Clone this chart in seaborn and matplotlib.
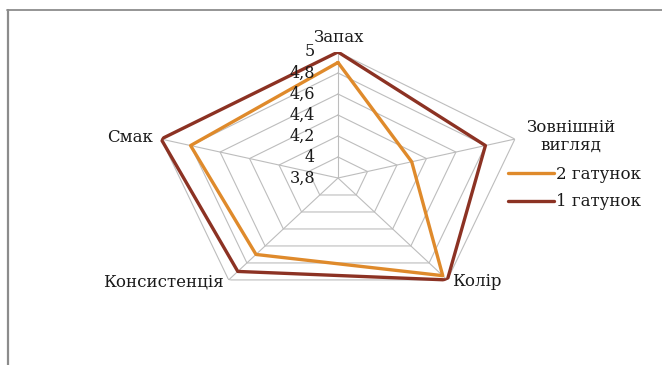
import numpy as np
import pandas as pd
import matplotlib
matplotlib.use("Agg")
import matplotlib.pyplot as plt
from matplotlib.lines import Line2D
import seaborn as sns

# Sensory evaluation scores for two grades of product
categories = ["Запах", "Зовнішній\nвигляд", "Колір", "Консистенція", "Смак"]
grade_1 = [5.0, 4.8, 5.0, 4.9, 5.0]
grade_2 = [4.9, 4.3, 4.95, 4.7, 4.8]
series_names = ["2 гатунок", "1 гатунок"]
ring_levels = [3.8, 4.0, 4.2, 4.4, 4.6, 4.8, 5.0]
ring_labels = ["3,8", "4", "4,2", "4,4", "4,6", "4,8", "5"]

sns.set_style("white")
plt.rcParams["font.family"] = ["DejaVu Serif", "Liberation Serif"]

W, H = 662, 365
fig = plt.figure(figsize=(W / 100, H / 100), dpi=100)
fig.patch.set_facecolor("white")

# polar axes stretched horizontally (elliptical radar)
cx, cy, rx, ry = 338, 178, 186, 126
ax = fig.add_axes([(cx - rx) / W, 1 - (cy + ry) / H, 2 * rx / W, 2 * ry / H],
                  projection="polar")
ax.set_aspect("auto")
ax.set_theta_offset(np.pi / 2)
ax.set_theta_direction(-1)
ax.set_ylim(ring_levels[0], ring_levels[-1])
ax.grid(False)
ax.set_xticks([])
ax.set_yticks([])
ax.spines["polar"].set_visible(False)
ax.set_facecolor("none")

n = len(categories)
theta = np.linspace(0, 2 * np.pi, n, endpoint=False)
theta_closed = np.append(theta, 2 * np.pi)

grid_col = "#bdbdbd"
for lvl in ring_levels[1:]:
    ax.plot(theta_closed, [lvl] * (n + 1), color=grid_col, lw=0.8, zorder=1)
for t in theta:
    ax.plot([t, t], [ring_levels[0], ring_levels[-1]], color=grid_col, lw=0.8, zorder=1)

# series data
rows = []
for name, vals in zip(series_names, [grade_2, grade_1]):
    closed = list(vals) + [vals[0]]
    for t, v in zip(theta_closed, closed):
        rows.append({"theta": t, "value": v, "series": name})
df = pd.DataFrame(rows)

palette = {"2 гатунок": "#df8a2b", "1 гатунок": "#8c3223"}
sns.lineplot(data=df, x="theta", y="value", hue="series", hue_order=series_names,
             palette=palette, sort=False, estimator=None, lw=2.4, legend=False,
             ax=ax, zorder=3)
ax.set_xlabel("")
ax.set_ylabel("")

txt_col = "#1a1a1a"

# radial value labels along the top spoke
for lvl, lab in zip(ring_levels, ring_labels):
    ax.annotate(lab, xy=(0, lvl), xytext=(-23, 0), textcoords="offset pixels",
                ha="right", va="center", fontsize=11.5, color=txt_col)

# category labels
label_pos = [
    (0, 15, "center", "center"),
    (56, 3, "center", "center"),
    (5, -2, "left", "center"),
    (-5, -2, "right", "center"),
    (-8, 2, "right", "center"),
]
for t, lab, (dx, dy, ha, va) in zip(theta, categories, label_pos):
    ax.annotate(lab, xy=(t, 5.0), xytext=(dx, dy), textcoords="offset pixels",
                ha=ha, va=va, fontsize=12, color=txt_col, linespacing=1.05,
                annotation_clip=False)

# legend
handles = [Line2D([], [], color=palette[s], lw=2.4) for s in series_names]
fig.legend(handles, series_names, loc="center left",
           bbox_to_anchor=(493 / W, 1 - 188 / H), frameon=False, fontsize=12,
           handlelength=2.75, handletextpad=0.12, labelspacing=0.65,
           labelcolor=txt_col)

# outer frame (left and top edges)
frame_col = "#8c8c8c"
fig.add_artist(Line2D([7.8 / W, 7.8 / W], [0, 1 - 10.2 / H], color=frame_col,
                      lw=1.6, transform=fig.transFigure))
fig.add_artist(Line2D([7 / W, 1], [1 - 10.2 / H, 1 - 10.2 / H], color=frame_col,
                      lw=1.3, transform=fig.transFigure))

fig.savefig("out.png", dpi=100)
